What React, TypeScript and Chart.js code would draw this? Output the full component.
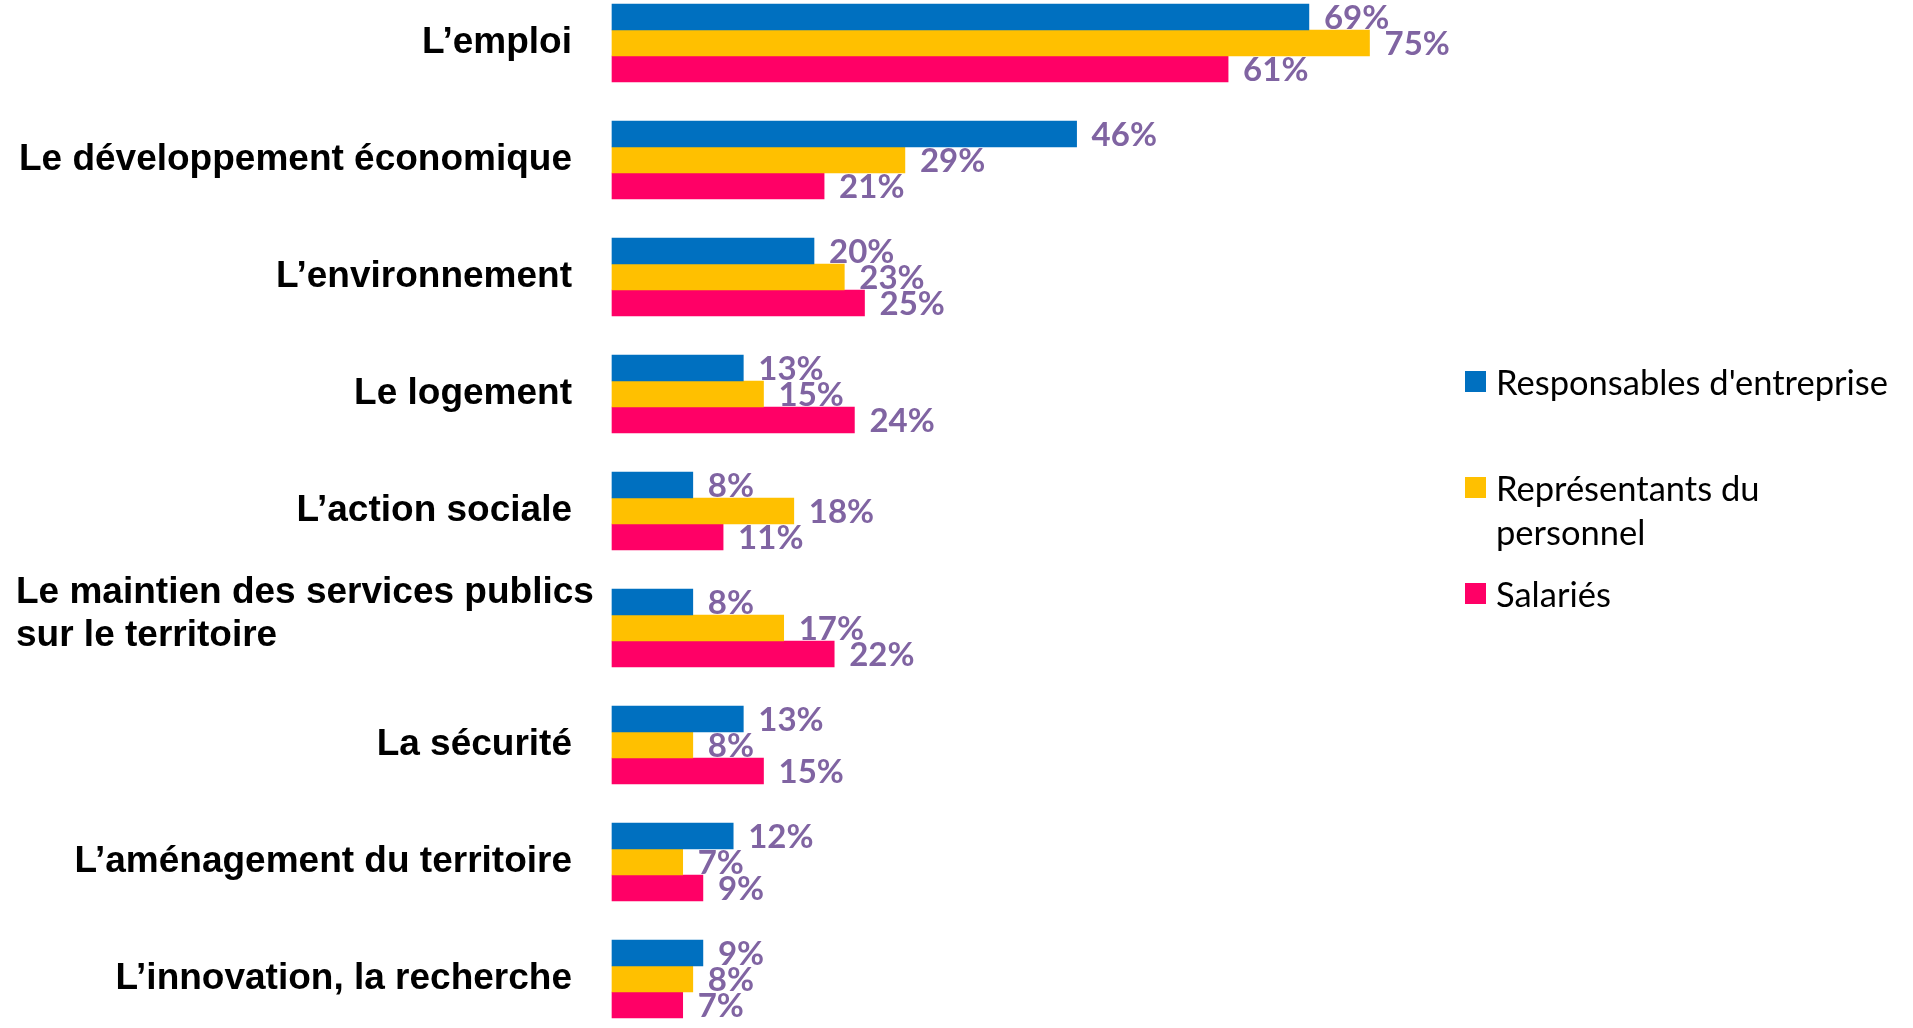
import React, { useEffect, useRef } from "react";
import { Chart, registerables } from "chart.js";

Chart.register(...registerables);

const categories: (string | string[])[] = [
  "L’emploi",
  "Le développement économique",
  "L’environnement",
  "Le logement",
  "L’action sociale",
  ["Le maintien des services publics", "sur le territoire"],
  "La sécurité",
  "L’aménagement du territoire",
  "L’innovation, la recherche",
];

const seriesNames = ["Responsables d'entreprise", "Représentants du personnel", "Salariés"];
const legendLines: string[][] = [["Responsables d'entreprise"], ["Représentants du", "personnel"], ["Salariés"]];

const responsables = [69, 46, 20, 13, 8, 8, 13, 12, 9];
const representants = [75, 29, 23, 15, 18, 17, 8, 7, 8];
const salaries = [61, 21, 25, 24, 11, 22, 15, 9, 7];

const seriesColors = ["#0070C0", "#FFC000", "#FF0066"];
const labelColor = "#8064A2";

const categoryLabelPlugin = {
  id: "categoryLabels",
  afterDraw(chart: any) {
    const ctx = chart.ctx;
    const yScale = chart.scales.y;
    ctx.save();
    ctx.font = 'bold 37px "Liberation Sans", Arial, sans-serif';
    ctx.fillStyle = "#000000";
    ctx.textBaseline = "middle";
    const lh = 43;
    (chart.data.labels as (string | string[])[]).forEach((lab, i) => {
      const py = yScale.getPixelForValue(i);
      const lines = Array.isArray(lab) ? lab : [lab];
      const multi = lines.length > 1;
      ctx.textAlign = multi ? "left" : "right";
      const x = multi ? 16 : yScale.right - 40;
      const y0 = py - ((lines.length - 1) * lh) / 2 - (multi ? 14 : 0);
      lines.forEach((t, k) => ctx.fillText(t, x, y0 + k * lh));
    });
    ctx.restore();
  },
};

const valueLabelPlugin = {
  id: "valueLabels",
  afterDatasetsDraw(chart: any) {
    const ctx = chart.ctx;
    ctx.save();
    ctx.font = 'bold 33px Lato, "Open Sans", sans-serif';
    ctx.fillStyle = labelColor;
    ctx.textBaseline = "middle";
    ctx.textAlign = "left";
    chart.data.datasets.forEach((ds: any, di: number) => {
      const meta = chart.getDatasetMeta(di);
      meta.data.forEach((bar: any, i: number) => {
        ctx.fillText(ds.data[i] + "%", bar.x + 15, bar.y + 1);
      });
    });
    ctx.restore();
  },
};

function BarChart() {
  const ref = useRef<HTMLCanvasElement | null>(null);
  useEffect(() => {
    if (!ref.current) return;
    const values = [responsables, representants, salaries];
    const chart = new Chart(ref.current, {
      type: "bar",
      data: {
        labels: categories as any,
        datasets: seriesNames.map((name, i) => ({
          label: name,
          data: values[i],
          backgroundColor: seriesColors[i],
          borderWidth: 0,
          barThickness: 26,
          clip: false as any,
        })),
      },
      options: {
        indexAxis: "y",
        responsive: false,
        animation: false,
        devicePixelRatio: 1,
        layout: { padding: { top: 43, bottom: 49, left: 0, right: 291 } },
        plugins: {
          legend: { display: false },
          tooltip: { enabled: false },
        },
        scales: {
          x: { type: "linear", min: 0, max: 100, display: false },
          y: {
            type: "category",
            offset: false,
            grid: { display: false, drawTicks: false },
            border: { display: false },
            ticks: { display: false },
            afterFit: (s: any) => {
              s.width = 612;
            },
          },
        },
      },
      plugins: [categoryLabelPlugin, valueLabelPlugin],
    });
    return () => chart.destroy();
  }, []);
  return <canvas ref={ref} width={1913} height={1028} style={{ display: "block" }} />;
}

function Legend() {
  return (
    <div style={{ position: "absolute", left: 1465, top: 360 }}>
      {legendLines.map((lines, i) => (
        <div key={i} style={{ display: "flex", alignItems: "flex-start", height: 106 }}>
          <div
            style={{
              width: 21,
              height: 21,
              background: seriesColors[i],
              marginTop: 11,
              marginRight: 10,
              flex: "none",
            }}
          />
          <div
            style={{
              fontFamily: 'Lato, "Open Sans", sans-serif',
              fontSize: 34.5,
              lineHeight: "44px",
              color: "#000",
              whiteSpace: "nowrap",
            }}
          >
            {lines.map((t, k) => (
              <div key={k}>{t}</div>
            ))}
          </div>
        </div>
      ))}
    </div>
  );
}

export default function App() {
  return (
    <div
      style={{
        position: "absolute",
        left: 0,
        top: 0,
        width: 1913,
        height: 1028,
        background: "#ffffff",
        overflow: "hidden",
      }}
    >
      <BarChart />
      <Legend />
    </div>
  );
}
